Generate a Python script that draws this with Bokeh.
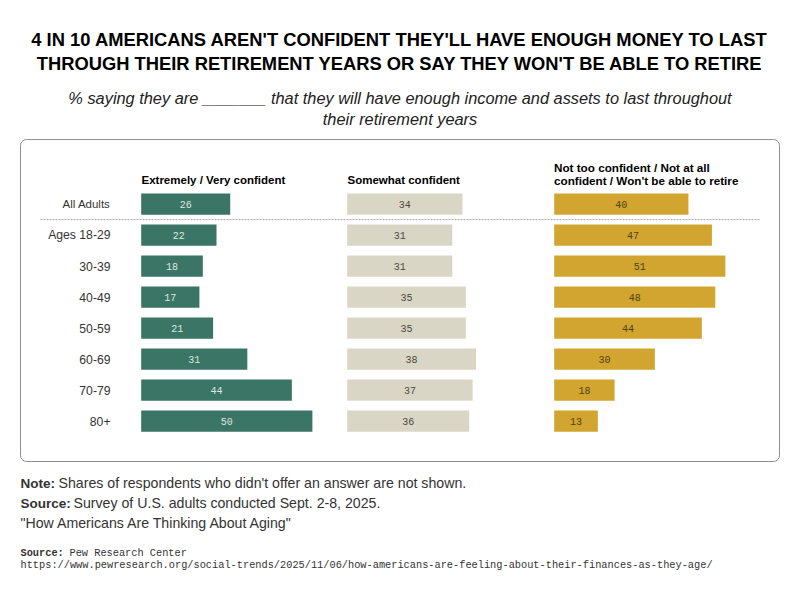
from bokeh.core.properties import value
from bokeh.embed import file_html
from bokeh.models import BoxAnnotation, ColumnDataSource, Label, Range1d
from bokeh.plotting import figure
from bokeh.resources import INLINE

groups = ["All Adults", "Ages 18-29", "30-39", "40-49", "50-59", "60-69", "70-79", "80+"]
confident = [26, 22, 18, 17, 21, 31, 44, 50]
somewhat = [34, 31, 31, 35, 35, 38, 37, 36]
not_confident = [40, 47, 51, 48, 44, 30, 18, 13]

W, H = 800, 590
PX_PER_UNIT = 3.39
ROW_PX = 31.0
FIRST_ROW_Y = 203.6  # page px


def X(page_x):
    return page_x / PX_PER_UNIT


def SY(page_y):
    return H - page_y


p = figure(
    width=W, height=H, output_backend="svg", toolbar_location=None,
    x_range=Range1d(0, W / PX_PER_UNIT),
    y_range=Range1d((H - FIRST_ROW_Y) / ROW_PX, -FIRST_ROW_Y / ROW_PX),
    min_border=0, outline_line_color=None, background_fill_color="white",
    border_fill_color="white",
)
p.axis.visible = False
p.grid.visible = False

p.add_layout(BoxAnnotation(
    left=20, right=779, top=SY(139), bottom=SY(461),
    left_units="screen", right_units="screen", top_units="screen", bottom_units="screen",
    fill_color="white", fill_alpha=1, line_color="#8f8f8f", line_alpha=1, line_width=1,
    border_radius=6, level="underlay",
))

rows = list(range(len(groups)))
columns = [
    (140.7, confident, "#3A7565", "#DDE8E3", 1.01),
    (346.7, somewhat, "#DAD6C6", "#4A473C", 1.0),
    (553.7, not_confident, "#D1A52F", "#4F4113", 0.99),
]
for start_px, values, colour, text_colour, stretch in columns:
    left = X(start_px)
    src = ColumnDataSource(dict(
        y=rows, left=[left] * len(values), right=[left + v * stretch for v in values],
        mid=[left + v * stretch / 2 for v in values], label=[str(v) for v in values],
    ))
    p.hbar(y="y", left="left", right="right", height=21.2 / ROW_PX, source=src,
           fill_color=colour, line_color=None)
    p.text(x="mid", y="y", text="label", source=src, text_font=value("Liberation Mono"),
           text_font_size="10px", text_color=text_colour, text_align="center",
           text_baseline="middle")

sizes = ["11.5px"] + ["12.2px"] * (len(groups) - 1)
p.text(x=[X(110)] * len(groups), y=rows, text=groups, text_font=value("Liberation Sans"),
       text_font_size=sizes, text_color="#333333", text_align="right",
       text_baseline="middle")

p.segment(x0=[X(40)], x1=[X(760)], y0=[0.5], y1=[0.5], line_color="#a8a8a8",
          line_width=1, line_dash="2 1")


def label(text, x, y, font="Liberation Sans", size=14, color="#000000", align="left",
          style="normal"):
    p.add_layout(Label(
        x=x, y=SY(y), x_units="screen", y_units="screen", text=text, text_font=font,
        text_font_size=f"{size}px", text_color=color, text_align=align,
        text_baseline="middle", text_font_style=style,
    ))


label("4 IN 10 AMERICANS AREN'T CONFIDENT THEY'LL HAVE ENOUGH MONEY TO LAST",
      399.5, 38.5, size=18.38, align="center", style="bold")
label("THROUGH THEIR RETIREMENT YEARS OR SAY THEY WON'T BE ABLE TO RETIRE",
      399.5, 62.5, size=18.33, align="center", style="bold")
label("% saying they are _______ that they will have enough income and assets to last throughout",
      399.5, 97.5, size=16.35, align="center", style="italic", color="#222222")
label("their retirement years", 399.5, 118.5, size=16.35, align="center", style="italic",
      color="#222222")

label("Extremely / Very confident", 141, 179.5, size=11.5, style="bold")
label("Somewhat confident", 347, 179.5, size=11.5, style="bold")
label("Not too confident / Not at all", 553.5, 166.5, size=11.7, style="bold")
label("confident / Won't be able to retire", 553.5, 179.5, size=11.7, style="bold")

label("Note:", 20, 482.5, size=13.5, style="bold", color="#333333")
label("Shares of respondents who didn't offer an answer are not shown.", 58, 482.5,
      size=14.17, color="#333333")
label("Source:", 20, 502.5, size=13.5, style="bold", color="#333333")
label("Survey of U.S. adults conducted Sept. 2-8, 2025.", 73, 502.5, size=14.17, color="#333333")
label('"How Americans Are Thinking About Aging"', 20, 522.5, size=14.17, color="#333333")

label("Source:", 20, 552.5, font="Liberation Mono", size=10.3, style="bold", color="#333333")
label("Pew Research Center", 69, 552.5, font="Liberation Mono", size=10.3, color="#333333")
label("https://www.pewresearch.org/social-trends/2025/11/06/how-americans-are-feeling-about-their-finances-as-they-age/",
      20, 564.5, font="Liberation Mono", size=10.3, color="#333333")

open("out.html", "w").write(file_html(p, INLINE))
